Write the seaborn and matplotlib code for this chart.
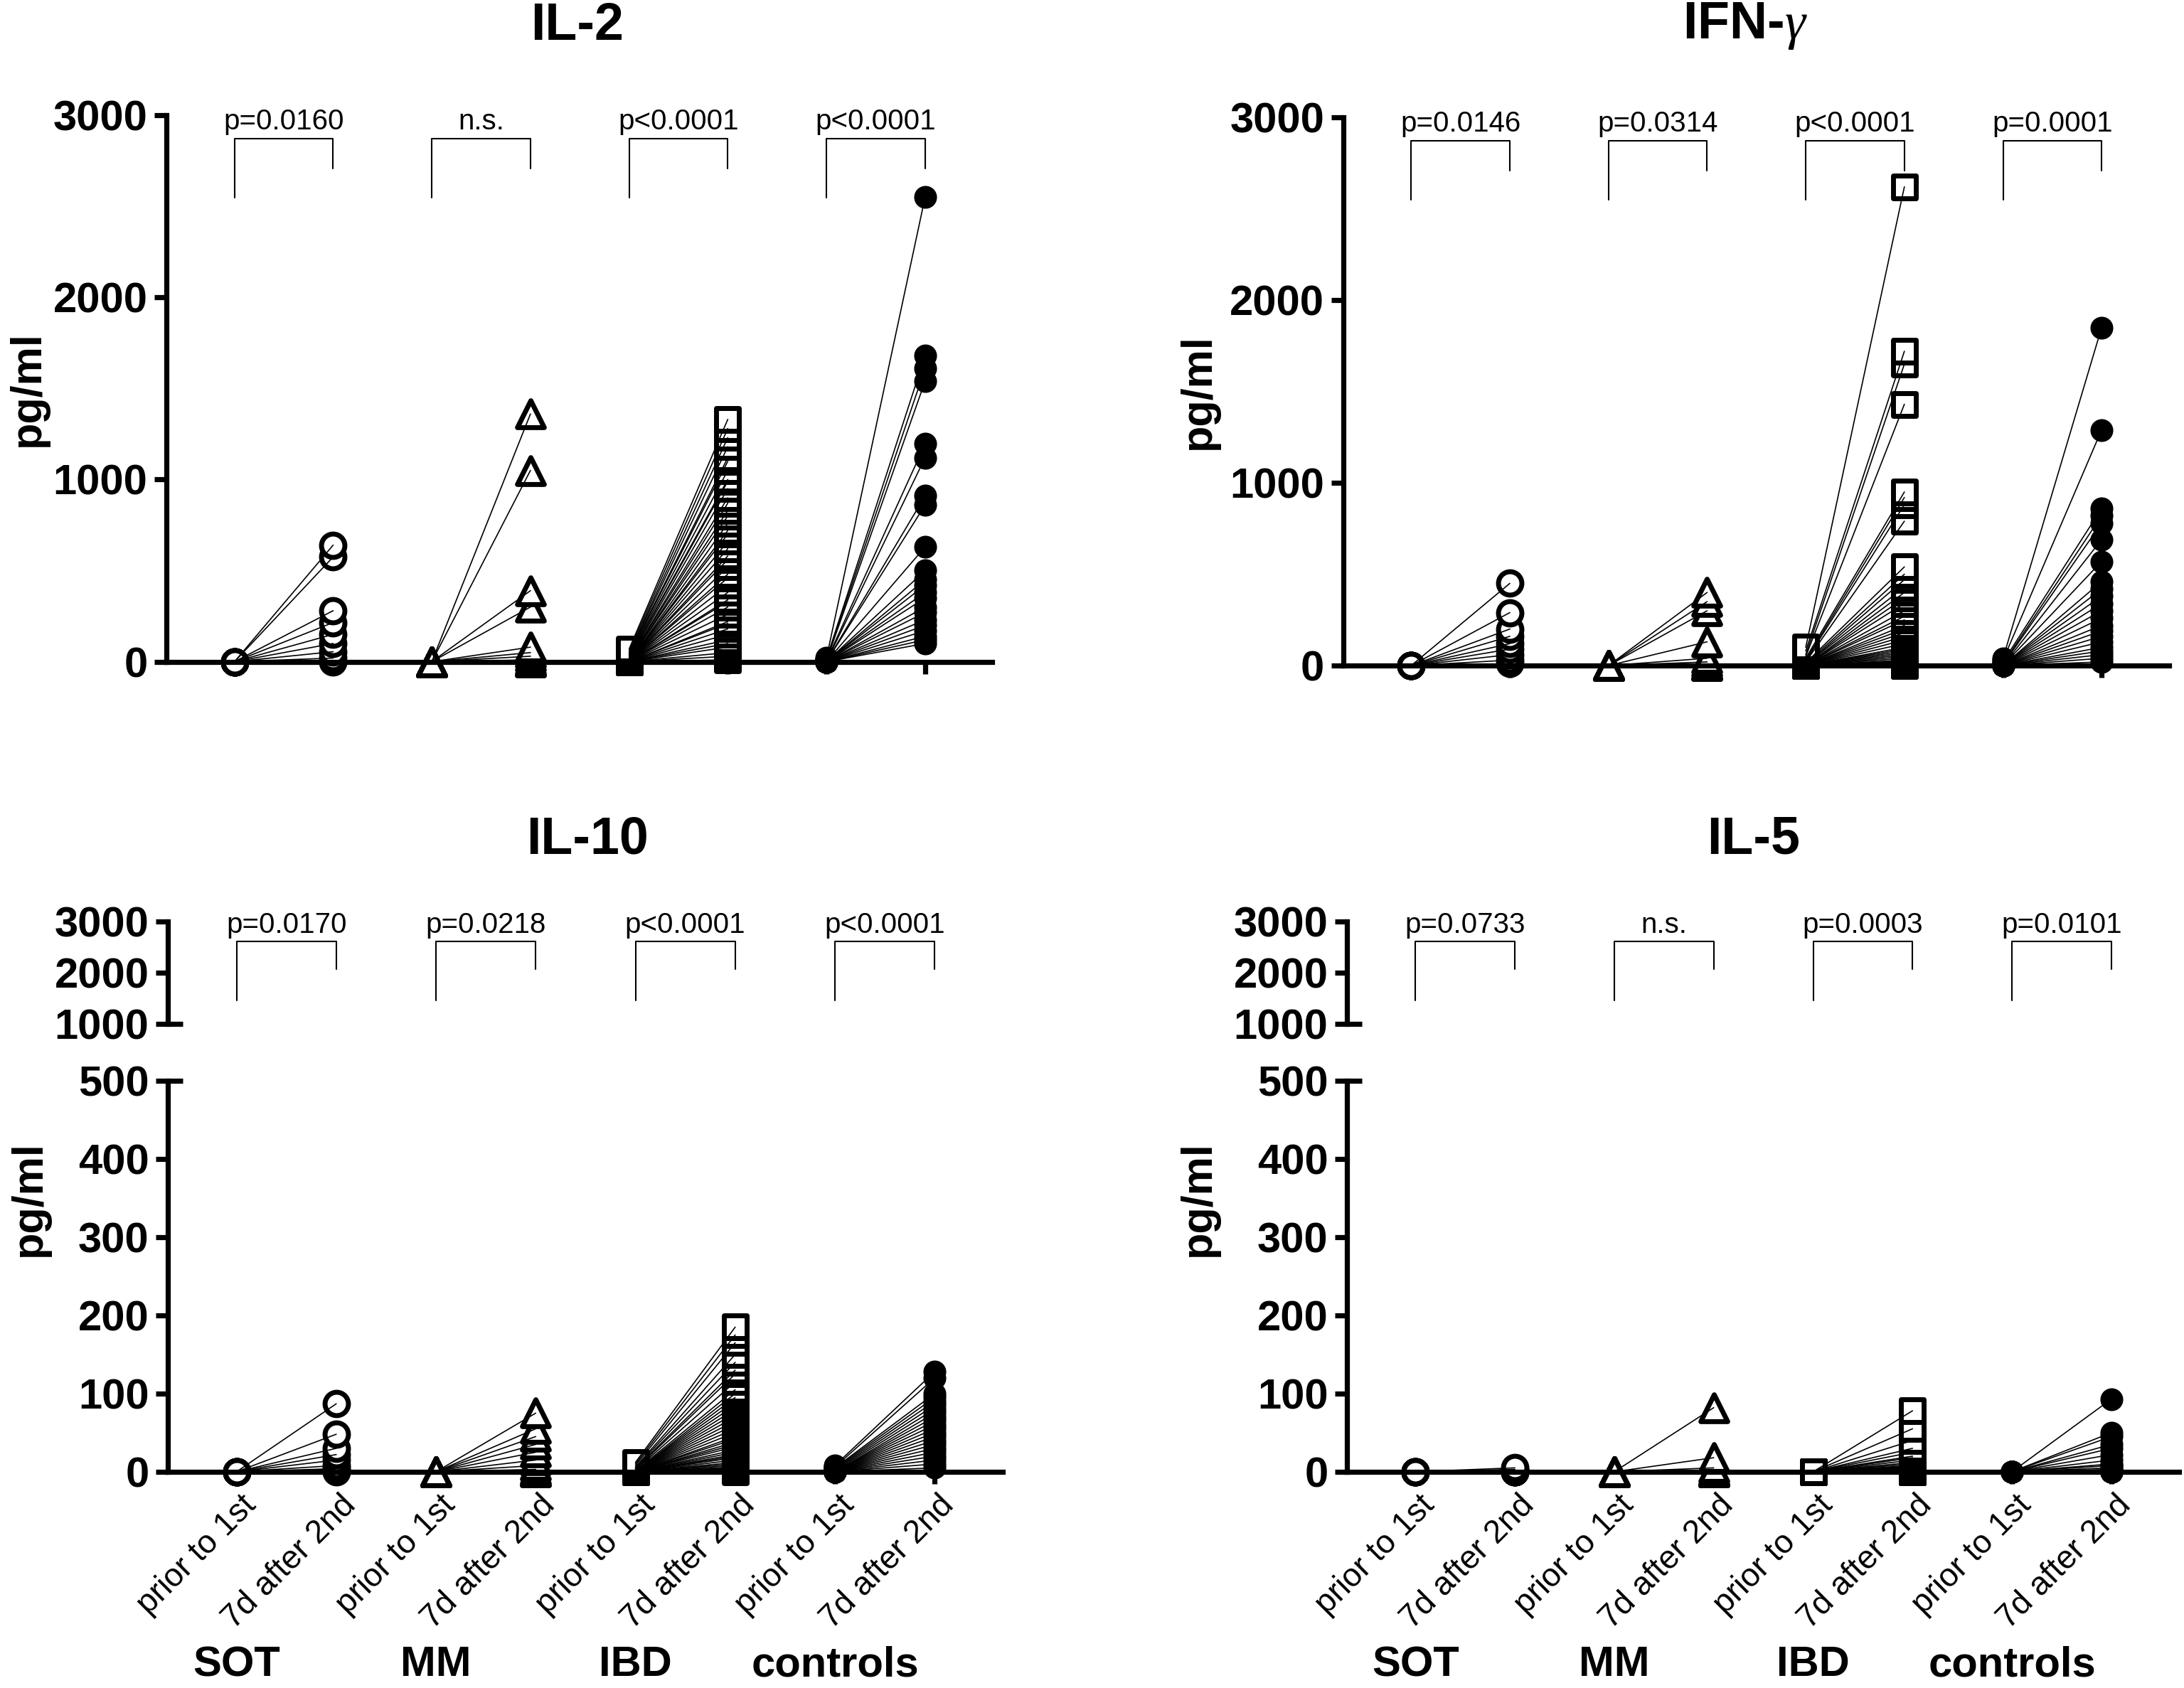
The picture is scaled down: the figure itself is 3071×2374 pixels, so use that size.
import numpy as np
import pandas as pd
import matplotlib
matplotlib.use("Agg")
import matplotlib.pyplot as plt
import matplotlib.transforms as mtransforms
import seaborn as sns

# ============================================================
# DATA (pg/ml)
# ============================================================
groups = ["SOT", "MM", "IBD", "controls"]
timepoints = ["prior to 1st", "7d after 2nd"]

# IL-2
il2_sot_pre = [0, 0, 0, 0, 0, 0, 0, 0, 0]
il2_sot_post = [640, 575, 280, 215, 150, 100, 55, 20, 0]
il2_mm_pre = [0, 0, 0, 0, 0, 0, 0, 0, 0, 0]
il2_mm_post = [1360, 1050, 390, 300, 80, 50, 30, 10, 0, 0]
il2_ibd_pre = [70, 60, 50, 45, 40, 35, 30, 25, 20, 15, 10, 8, 5, 5, 0, 0, 0, 0, 0, 0,
               0, 0, 0, 0, 0, 0, 0, 0, 0, 0, 0, 0, 0, 0, 0, 0, 0, 0, 0, 0]
il2_ibd_post = [1330, 1280, 1230, 1180, 1120, 1100, 1050, 1000, 990, 950, 900, 870, 830, 800,
                760, 720, 700, 660, 620, 580, 560, 520, 480, 460, 420, 380, 340, 330, 300, 260,
                220, 210, 180, 150, 120, 100, 80, 50, 30, 10]
il2_ctrl_pre = [20, 15, 10, 5, 5, 0, 0, 0, 0, 0, 0, 0, 0, 0, 0, 0, 0, 0, 0, 0, 0, 0]
il2_ctrl_post = [2550, 1680, 1610, 1540, 1195, 1120, 910, 860, 630, 500, 450, 420, 380, 350,
                 300, 270, 230, 200, 170, 140, 120, 100]

# IFN-gamma
ifn_sot_pre = [0, 0, 0, 0, 0, 0, 0, 0, 0]
ifn_sot_post = [450, 290, 200, 160, 120, 90, 60, 30, 10]
ifn_mm_pre = [0, 0, 0, 0, 0, 0, 0, 0, 0, 0]
ifn_mm_post = [400, 350, 300, 130, 40, 20, 5, 0, 0, 0]
ifn_ibd_pre = [100, 80, 60, 50, 40, 30, 25, 20, 15, 10, 5, 5, 0, 0, 0, 0, 0, 0, 0, 0,
               0, 0, 0, 0, 0, 0, 0, 0, 0, 0, 0, 0, 0, 0, 0, 0, 0, 0, 0, 0]
ifn_ibd_post = [2620, 1720, 1650, 1430, 950, 920, 880, 790, 540, 500, 470, 430, 400, 370,
                340, 300, 270, 250, 220, 200, 180, 160, 140, 120, 100, 90, 80, 70, 60, 50,
                40, 30, 25, 20, 15, 10, 5, 0, 0, 0]
ifn_ctrl_pre = [40, 30, 20, 10, 5, 0, 0, 0, 0, 0, 0, 0, 0, 0, 0, 0, 0, 0, 0, 0, 0, 0]
ifn_ctrl_post = [1850, 1290, 860, 820, 780, 690, 570, 460, 420, 380, 340, 300, 260, 220,
                 190, 160, 130, 100, 80, 60, 40, 20]

# IL-10
il10_sot_pre = [0, 0, 0, 0, 0, 0, 0, 0, 0]
il10_sot_post = [87, 48, 30, 22, 15, 8, 4, 2, 0]
il10_mm_pre = [0, 0, 0, 0, 0, 0, 0, 0, 0, 0]
il10_mm_post = [75, 55, 45, 35, 25, 15, 8, 3, 0, 0]
il10_ibd_pre = [12, 10, 8, 6, 5, 4, 3, 2, 1, 0, 0, 0, 0, 0, 0, 0, 0, 0, 0, 0,
                0, 0, 0, 0, 0, 0, 0, 0, 0, 0, 0, 0, 0, 0, 0, 0, 0, 0, 0, 0]
il10_ibd_post = [185, 175, 165, 150, 140, 130, 125, 115, 105, 100, 95, 90, 85, 80, 75, 70,
                 65, 60, 55, 50, 45, 42, 38, 35, 32, 28, 25, 22, 20, 18, 15, 12, 10, 8, 6,
                 5, 4, 3, 2, 0]
il10_ctrl_pre = [8, 6, 5, 4, 3, 2, 1, 0, 0, 0, 0, 0, 0, 0, 0, 0, 0, 0, 0, 0, 0, 0]
il10_ctrl_post = [128, 120, 100, 95, 90, 85, 80, 75, 70, 65, 60, 55, 50, 45, 40, 35, 30, 25,
                  20, 15, 10, 5]

# IL-5
il5_sot_pre = [0, 0, 0, 0, 0, 0, 0, 0, 0]
il5_sot_post = [5, 3, 2, 1, 0, 0, 0, 0, 0]
il5_mm_pre = [0, 0, 0, 0, 0, 0, 0, 0, 0, 0]
il5_mm_post = [82, 18, 5, 2, 0, 0, 0, 0, 0, 0]
il5_ibd_pre = [0, 0, 0, 0, 0, 0, 0, 0, 0, 0, 0, 0, 0, 0, 0, 0, 0, 0, 0, 0,
               0, 0, 0, 0, 0, 0, 0, 0, 0, 0, 0, 0, 0, 0, 0, 0, 0, 0, 0, 0]
il5_ibd_post = [78, 55, 40, 30, 25, 20, 18, 15, 12, 10, 8, 7, 6, 5, 4, 3, 3, 2, 2, 1,
                1, 0, 0, 0, 0, 0, 0, 0, 0, 0, 0, 0, 0, 0, 0, 0, 0, 0, 0, 0]
il5_ctrl_pre = [0, 0, 0, 0, 0, 0, 0, 0, 0, 0, 0, 0, 0, 0, 0, 0, 0, 0, 0, 0, 0, 0]
il5_ctrl_post = [93, 50, 45, 35, 30, 22, 15, 10, 8, 5, 3, 2, 1, 0, 0, 0, 0, 0, 0, 0, 0, 0]

# p values per group
il2_p = ["p=0.0160", "n.s.", "p<0.0001", "p<0.0001"]
ifn_p = ["p=0.0146", "p=0.0314", "p<0.0001", "p=0.0001"]
il10_p = ["p=0.0170", "p=0.0218", "p<0.0001", "p<0.0001"]
il5_p = ["p=0.0733", "n.s.", "p=0.0003", "p=0.0101"]

MARKERS = {"SOT": "o", "MM": "^", "IBD": "s", "controls": "o"}
SIZES = {"SOT": 140, "MM": 185, "IBD": 125, "controls": 120}

W, H = 3071, 2374
DPI = 200
XLIM = (-0.69, 7.68)


def build_frame(pairs):
    rows = []
    pid = 0
    for gi, (g, (pre, post)) in enumerate(zip(groups, pairs)):
        for a, b in zip(pre, post):
            rows.append((pid, g, timepoints[0], 2 * gi, a))
            rows.append((pid, g, timepoints[1], 2 * gi + 1, b))
            pid += 1
    return pd.DataFrame(rows, columns=["pid", "group", "time", "pos", "value"])


def draw_points(ax, df):
    # markers first (low values underneath), connecting lines on top
    for g in groups:
        sub = df[df["group"] == g].sort_values("value")
        if g == "controls":
            sns.scatterplot(data=sub, x="pos", y="value", marker="o", s=SIZES[g],
                            color="black", edgecolor="black", linewidth=0.6,
                            ax=ax, legend=False, clip_on=False, zorder=2.2)
        else:
            sns.scatterplot(data=sub, x="pos", y="value", marker=MARKERS[g], s=SIZES[g],
                            facecolor="white", edgecolor="black", linewidth=2.5,
                            ax=ax, legend=False, clip_on=False, zorder=2.2)
    sns.lineplot(data=df, x="pos", y="value", units="pid", estimator=None, color="black",
                 linewidth=0.6, ax=ax, legend=False, sort=False, zorder=2.3)


def style_axis(ax, show_bottom=True):
    sns.despine(ax=ax, top=True, right=True, bottom=not show_bottom)
    ax.spines["left"].set_linewidth(2.6)
    ax.spines["bottom"].set_linewidth(2.6)
    ax.set_xlim(*XLIM)
    ax.set_xlabel("")
    ax.set_ylabel("")
    ax.tick_params(axis="y", length=6, width=2.6, pad=3.5, labelsize=21.5)
    for lab in ax.get_yticklabels():
        lab.set_fontweight("bold")
    if show_bottom:
        ax.set_xticks(range(8))
        ax.tick_params(axis="x", length=6, width=2.6)
    else:
        ax.set_xticks([])


def add_brackets(ax, pvals, geo):
    h_px = ax.get_position().height * H
    trans = ax.get_xaxis_transform()
    f = lambda px: 1 - px / h_px
    for gi, p in enumerate(pvals):
        x0, x1 = 2 * gi, 2 * gi + 1
        ax.plot([x0, x0, x1, x1], [f(geo["left"]), f(geo["top"]), f(geo["top"]), f(geo["right"])],
                transform=trans, color="black", lw=0.75, clip_on=False, zorder=3)
        ax.text((x0 + x1) / 2, f(geo["text"]), p, transform=trans, ha="center",
                va="baseline", fontsize=14.5)


def add_cap(ax, yval):
    w_px = ax.get_position().width * W
    ax.plot([0, 21 / w_px], [yval, yval], transform=ax.get_yaxis_transform(),
            color="black", lw=2.6, clip_on=False, solid_capstyle="butt")


# ============================================================
# FIGURE
# ============================================================
sns.set_theme(style="ticks")
plt.rcParams["font.family"] = ["Liberation Sans", "DejaVu Sans"]
plt.rcParams.update({
    "axes.linewidth": 2.6,
    "axes.edgecolor": "black",
    "text.color": "black",
    "axes.labelcolor": "black",
    "xtick.color": "black",
    "ytick.color": "black",
    "mathtext.fontset": "custom",
    "mathtext.rm": "Liberation Serif",
    "mathtext.it": "Liberation Serif:italic",
})

fig = plt.figure(figsize=(W / DPI, H / DPI), dpi=DPI)

top_geo = {"text": 20, "top": 33, "left": 116, "right": 75}
bot_geo = {"text": 16, "top": 28, "left": 111, "right": 67}

top_panels = [
    ("IL-2", [0.0762, 0.608, 0.4543 - 0.0762, 0.9318 - 0.608], 0.2644, 0.013,
     [(il2_sot_pre, il2_sot_post), (il2_mm_pre, il2_mm_post),
      (il2_ibd_pre, il2_ibd_post), (il2_ctrl_pre, il2_ctrl_post)], il2_p),
    (r"IFN-$\gamma$", [0.615, 0.6057, 0.993 - 0.615, 0.9305 - 0.6057], 0.799, 0.549,
     [(ifn_sot_pre, ifn_sot_post), (ifn_mm_pre, ifn_mm_post),
      (ifn_ibd_pre, ifn_ibd_post), (ifn_ctrl_pre, ifn_ctrl_post)], ifn_p),
]

for title, pos, tx, lx, pairs, pvals in top_panels:
    ax = fig.add_axes(pos)
    df = build_frame(pairs)
    draw_points(ax, df)
    ax.set_ylim(0, 3000)
    ax.set_yticks([0, 1000, 2000, 3000])
    style_axis(ax)
    ax.set_xticklabels([])
    add_brackets(ax, pvals, top_geo)
    fig.text(tx, 0.9845, title, ha="center", va="center", fontsize=26.5, fontweight="bold")
    fig.text(lx, pos[1] + pos[3] / 2, "pg/ml", rotation=90, ha="center", va="center",
             fontsize=22, fontweight="bold")

# bottom row: broken axis 0-500 / 1000-3000
bot_panels = [
    ("IL-10", 0.0768, 0.459, 0.269, 0.0134,
     [(il10_sot_pre, il10_sot_post), (il10_mm_pre, il10_mm_post),
      (il10_ibd_pre, il10_ibd_post), (il10_ctrl_pre, il10_ctrl_post)], il10_p),
    ("IL-5", 0.6167, 0.9977, 0.803, 0.549,
     [(il5_sot_pre, il5_sot_post), (il5_mm_pre, il5_mm_post),
      (il5_ibd_pre, il5_ibd_post), (il5_ctrl_pre, il5_ctrl_post)], il5_p),
]

label_shift = mtransforms.ScaledTranslation(5 / DPI, 0, fig.dpi_scale_trans)

for title, x0, x1, tx, lx, pairs, pvals in bot_panels:
    ax_hi = fig.add_axes([x0, 0.3934, x1 - x0, 0.4541 - 0.3934])
    ax_lo = fig.add_axes([x0, 0.1281, x1 - x0, 0.3597 - 0.1281])
    df = build_frame(pairs)
    draw_points(ax_lo, df)
    ax_lo.set_ylim(0, 500)
    ax_lo.set_yticks([0, 100, 200, 300, 400, 500])
    style_axis(ax_lo)
    ax_lo.set_xticklabels(timepoints * 4, rotation=45, ha="right", va="top",
                          rotation_mode="anchor", fontsize=16.5)
    ax_lo.tick_params(axis="x", pad=3)
    for lab in ax_lo.get_xticklabels():
        lab.set_transform(lab.get_transform() + label_shift)
    add_cap(ax_lo, 500)

    ax_hi.set_ylim(1000, 3000)
    ax_hi.set_yticks([1000, 2000, 3000])
    style_axis(ax_hi, show_bottom=False)
    add_cap(ax_hi, 1000)
    add_brackets(ax_hi, pvals, bot_geo)

    for gi, g in enumerate(groups):
        ax_lo.text(2 * gi, 0.0135, g, transform=mtransforms.blended_transform_factory(
            ax_lo.transData, fig.transFigure), ha="center", va="center",
            fontsize=21.5, fontweight="bold")
    fig.text(tx, 0.5025, title, ha="center", va="center", fontsize=26.5, fontweight="bold")
    fig.text(lx, 0.29, "pg/ml", rotation=90, ha="center", va="center",
             fontsize=22, fontweight="bold")

fig.savefig("out.png", dpi=DPI, facecolor="white")
